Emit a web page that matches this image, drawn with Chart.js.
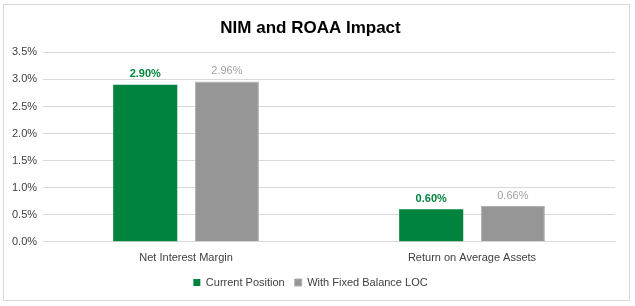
<!DOCTYPE html>
<html>
<head>
<meta charset="utf-8">
<script src="https://cdn.jsdelivr.net/npm/chart.js@4/dist/chart.umd.min.js"></script>
<style>
  body { margin: 0; background: #fff; }
  #wrap { position: absolute; left: 3px; top: 4px; width: 625px; height: 295px; border: 1px solid #d9d9d9; }
  canvas { display: block; }
</style>
</head>
<body>
<div id="wrap"><canvas id="chart" width="625" height="295"></canvas></div>
<script>
// chart data
const categories = ['Net Interest Margin', 'Return on Average Assets'];
const currentPosition = [2.90, 0.60];
const withFixedLoc = [2.96, 0.66];
const seriesNames = ['Current Position', 'With Fixed Balance LOC'];

const green = '#00843d';
const gray = '#969696';
const fontFamily = "'Liberation Sans', Arial, sans-serif";

// draws the value above each bar
const valueLabels = {
    id: 'valueLabels',
    afterDatasetsDraw(chart) {
        const ctx = chart.ctx;
        chart.data.datasets.forEach((ds, i) => {
            const meta = chart.getDatasetMeta(i);
            meta.data.forEach((bar, j) => {
                ctx.save();
                ctx.font = (i === 0 ? 'bold ' : '') + '11px ' + fontFamily;
                ctx.fillStyle = i === 0 ? green : '#a0a0a0';
                ctx.textAlign = 'center';
                ctx.textBaseline = 'bottom';
                ctx.fillText(ds.data[j].toFixed(2) + '%', bar.x, bar.y - 5);
                ctx.restore();
            });
        });
    }
};

new Chart(document.getElementById('chart').getContext('2d'), {
    type: 'bar',
    data: {
        labels: categories,
        datasets: [
            { label: seriesNames[0], data: currentPosition, backgroundColor: green, categoryPercentage: 0.571, barPercentage: 0.785 },
            { label: seriesNames[1], data: withFixedLoc, backgroundColor: gray, borderColor: '#b0b0b0', borderWidth: 1, categoryPercentage: 0.571, barPercentage: 0.785 }
        ]
    },
    options: {
        responsive: false,
        animation: false,
        layout: { padding: { left: 2, right: 14, top: 1, bottom: 2 } },
        plugins: {
            title: {
                display: true,
                text: 'NIM and ROAA Impact',
                color: '#000',
                font: { family: fontFamily, size: 17, weight: 'bold' },
                padding: { top: 12, bottom: 14 }
            },
            legend: {
                position: 'bottom',
                labels: {
                    boxWidth: 7,
                    boxHeight: 7,
                    color: '#404040',
                    font: { family: fontFamily, size: 11 },
                    padding: 10
                }
            },
            tooltip: { enabled: false }
        },
        scales: {
            x: {
                grid: { display: false },
                border: { color: '#d9d9d9' },
                ticks: { color: '#404040', font: { family: fontFamily, size: 11 }, padding: 2 }
            },
            y: {
                min: 0,
                max: 3.5,
                ticks: {
                    stepSize: 0.5,
                    color: '#404040',
                    font: { family: fontFamily, size: 11 },
                    padding: 6,
                    callback: v => v.toFixed(1) + '%'
                },
                grid: { color: '#d9d9d9', drawTicks: false },
                border: { display: false }
            }
        }
    },
    plugins: [valueLabels]
});
</script>
</body>
</html>
